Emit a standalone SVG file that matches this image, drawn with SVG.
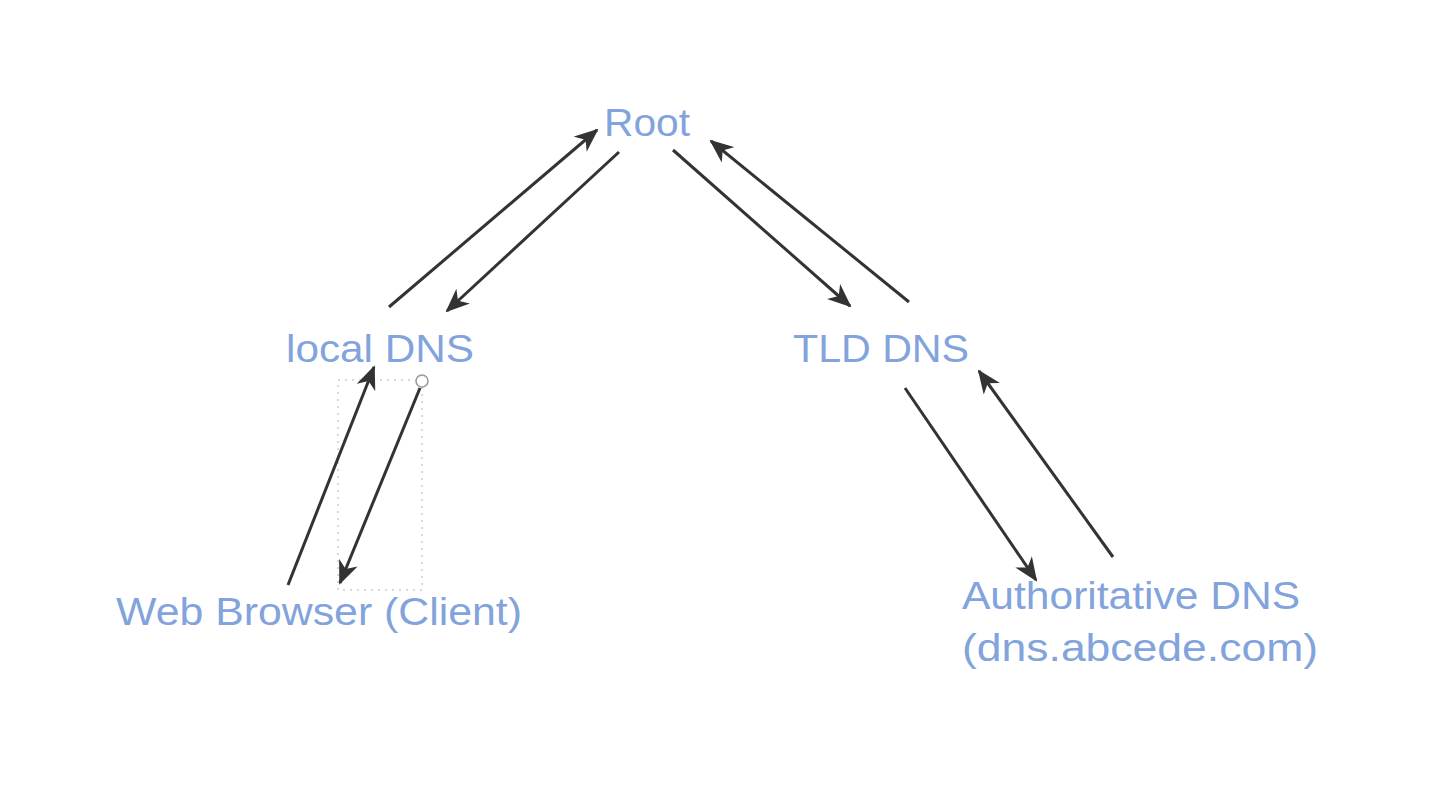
<svg xmlns="http://www.w3.org/2000/svg" width="1430" height="802" viewBox="0 0 1430 802">
<style>
.lbl{font-family:"Liberation Sans",Arial,sans-serif;font-size:38px;fill:#82a3dc;}
.edge{stroke:#333;stroke-width:3;fill:none;marker-end:url(#ah);}
</style>
<defs>
<marker id="ah" viewBox="0 0 12 10" refX="11" refY="5" markerWidth="8" markerHeight="6.7" markerUnits="strokeWidth" orient="auto">
<path d="M0,0 L12,5 L0,10 L3.5,5 z" fill="#333"/>
</marker>
</defs>
<rect width="1430" height="802" fill="#fff"/>
<g id="selection" fill="none" stroke="#ccc" stroke-width="1.5" stroke-dasharray="2,5">
<rect x="338" y="380" width="84" height="210"/>
</g>
<g id="root"><text class="lbl" x="604" y="136" textLength="86" lengthAdjust="spacingAndGlyphs">Root</text></g>
<g id="localdns"><text class="lbl" x="286" y="362" textLength="188" lengthAdjust="spacingAndGlyphs">local DNS</text></g>
<g id="tlddns"><text class="lbl" x="793" y="362" textLength="176" lengthAdjust="spacingAndGlyphs">TLD DNS</text></g>
<g id="browser"><text class="lbl" x="116" y="625" textLength="406" lengthAdjust="spacingAndGlyphs">Web Browser (Client)</text></g>
<g id="authdns">
<text class="lbl" x="962" y="609" textLength="338" lengthAdjust="spacingAndGlyphs">Authoritative DNS</text>
<text class="lbl" x="962" y="661" textLength="356" lengthAdjust="spacingAndGlyphs">(dns.abcede.com)</text>
</g>
<g id="connectors">
<line class="edge" x1="389" y1="307" x2="597" y2="130"/>
<line class="edge" x1="619" y1="152" x2="447" y2="311"/>
<line class="edge" x1="673" y1="150" x2="850" y2="306"/>
<line class="edge" x1="909" y1="302" x2="711" y2="141"/>
<line class="edge" x1="288" y1="585" x2="374" y2="367"/>
<line class="edge" x1="420" y1="388" x2="340" y2="583"/>
<line class="edge" x1="905" y1="388" x2="1036" y2="580"/>
<line class="edge" x1="1113" y1="557" x2="979" y2="371"/>
</g>
<g id="handle"><circle cx="422" cy="381" r="6" fill="#fff" stroke="#999" stroke-width="1.5"/></g>
</svg>
